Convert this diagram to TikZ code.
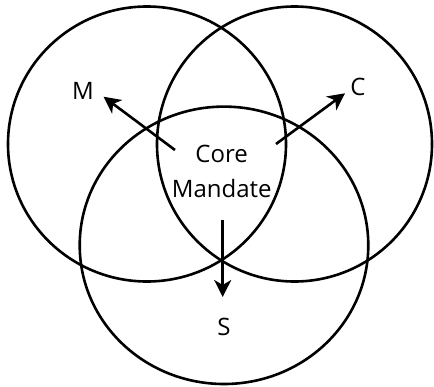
\documentclass[tikz,border=0pt]{standalone}
\usepackage{fontspec}
\setmainfont{Open Sans}
\usetikzlibrary{arrows.meta}
\begin{document}
\begin{tikzpicture}[x=1pt,y=-1pt,
  ring/.style={line width=2.6pt},
  pointer/.style={line width=2.6pt,-{Stealth[length=17pt,width=17pt,inset=5pt]}},
  lbl/.style={font=\fontsize{24}{35}\selectfont,inner sep=0pt}]
\useasboundingbox (0,0) rectangle (434,386);
\draw[ring] (147,144) ellipse [x radius=139, y radius=137.5];
\draw[ring] (294.5,144) ellipse [x radius=137.5, y radius=137.5];
\draw[ring] (224,245.3) ellipse [x radius=144.3, y radius=138.7];
\node[lbl,align=center] (core) at (221.7,171) {Core\\Mandate};
\node[lbl] (m) at (83,91) {M};
\node[lbl] (c) at (358,87) {C};
\node[lbl] (s) at (224,327) {S};
\coordinate (mt) at (175,150);
\coordinate (mh) at (103.5,96.7);
\coordinate (ct) at (276,144);
\coordinate (ch) at (345,93.3);
\coordinate (st) at (222.7,220);
\coordinate (sh) at (222.7,297);
\draw[pointer] (mt) -- (mh);
\draw[pointer] (ct) -- (ch);
\draw[pointer] (st) -- (sh);
\end{tikzpicture}
\end{document}
